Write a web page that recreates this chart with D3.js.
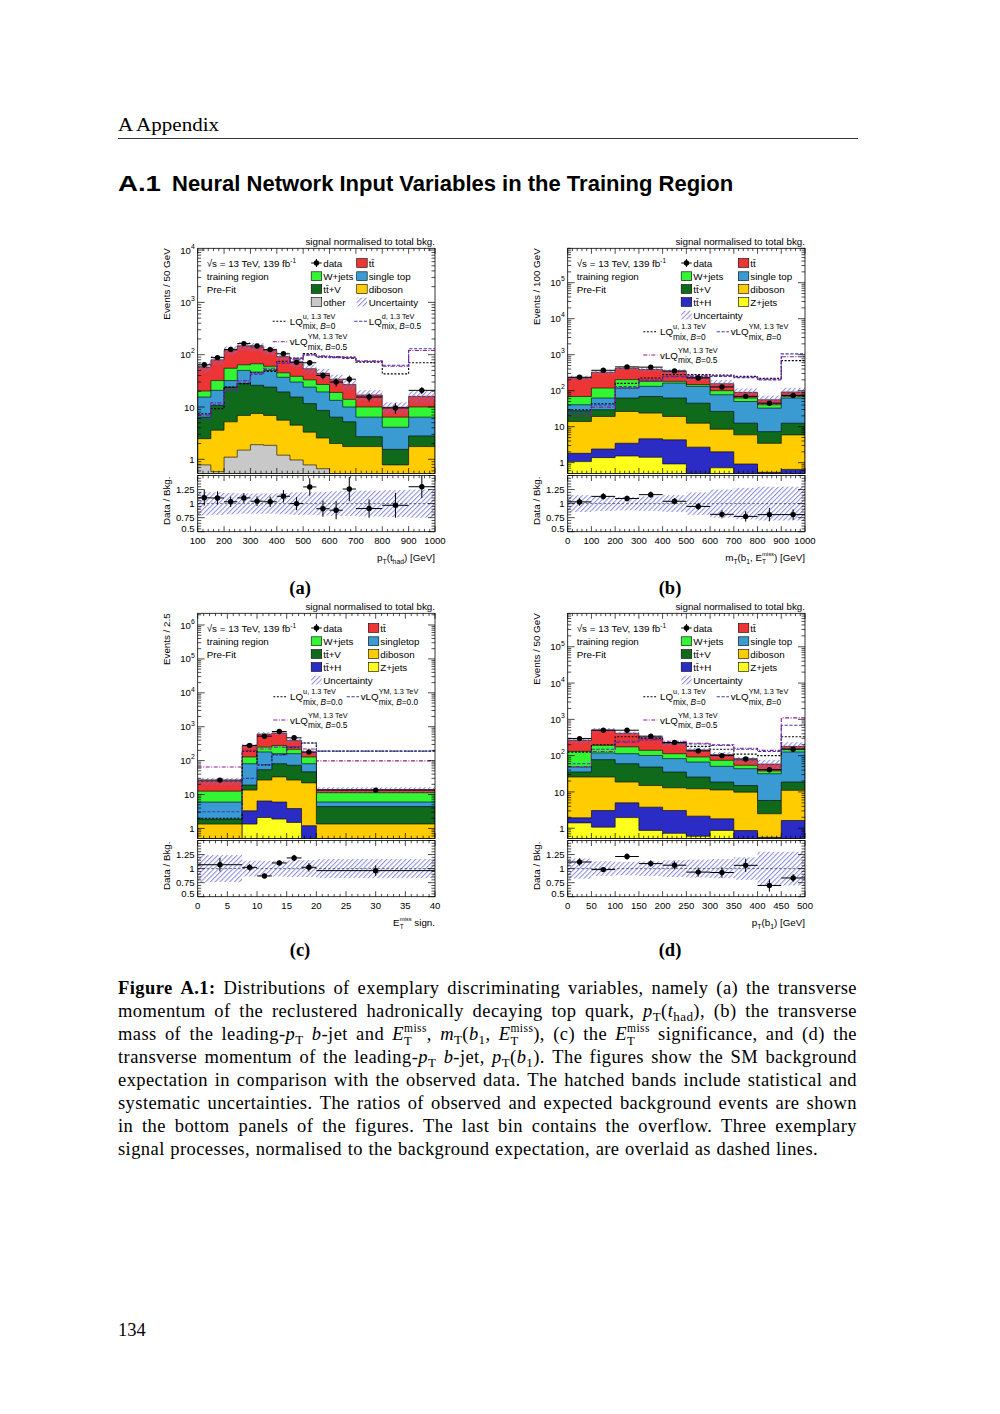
<!DOCTYPE html>
<html>
<head>
<meta charset="utf-8">
<script src="https://cdn.jsdelivr.net/npm/d3@7"></script>
<style>
html,body{margin:0;padding:0;background:#fff;}
svg text{white-space:pre;}
</style>
</head>
<body>
<svg id="page" width="1000" height="1414" xmlns="http://www.w3.org/2000/svg"></svg>
<script>
// ---------------- DATA ----------------
// (a) pT(t_had)
const edgesA = [100,150,200,250,300,350,400,450,500,550,600,650,700,800,900,1000];
const dataA = [64,88,126,163,147,125,104,72,70,40,30,34,15.5,9.6,20.8];
const ttbarA = [37.8,48,67,84,74,61,47,33.4,21,17,15,13,7,3.5,6];
const wjetsA = [4.7,11.2,23,14,20.5,10,8,8.6,9,7.6,5.6,4,3.6,2.3,3.6];
const singletopA = [9.1,10.1,8,22,20.5,26,17.6,14.5,12.4,10.8,7,4.8,3.7,2.55,3.6];
const ttvA = [3.92,7.1,18.8,21.1,18.5,17.1,13.8,11,8.3,6.05,4.4,3.45,0.95,0.77,1.05];
const dibosonA = [1.7,3.02,4.1,5.4,5.6,5.05,4.4,3.53,2.52,1.89,1.55,1.4,1.45,0.48,1.45];
const otherA = [0.78,0.58,1.1,1.5,1.9,1.85,1.2,0.97,0.78,0.66,0.45,0.35,0.3,0.3,0.3];
const uncA = [0.21,0.2,0.19,0.18,0.18,0.18,0.19,0.2,0.2,0.21,0.22,0.22,0.23,0.24,0.25];
const sigLQuA = [7.4,9.3,24,28,45,48,75,86,105,90,90,90,72,43,70];
const sigLQdA = [6,11,20,30,42,52,68,80,100,92,88,85,74,63,130];
const sigVLQ05A = [7,12,22,32,45,55,70,85,98,95,92,88,76,60,120];

// (b) mT(b1, ETmiss)
const edgesB = [0,100,200,300,400,500,600,700,800,900,1000];
const dataB = [236,369,458,451,354,226,127,69.5,45,74];
const ttbarB = [160,209,217,207,158,91,57,27.5,15.4,23];
const wjetsB = [28.4,55.5,85,50,19,15,23,12.5,7.8,6.5];
const singletopB = [13,33,55.5,63,100.5,87,50.5,37.5,25.5,50];
const ttvB = [13.7,10.3,36,45.2,43.3,32.5,18,6.6,3.84,6.6];
const dibosonB = [12.1,16.8,23,19.2,14.9,9.8,6.5,5,2.9,5.25];
const tthB = [0.75,1.02,1.93,3.19,3.38,2.3,1.28,0.62,0.24,0.35];
const zjetsB = [1.07,1.38,1.53,1.41,0.92,0.4,0.72,0.3,0.3,0.3];
const uncB = [0.15,0.13,0.12,0.13,0.15,0.2,0.25,0.28,0.3,0.3];
const sigLQuB = [29.5,43,160,225,280,280,270,250,220,685];
const sigVLQ0B = [25,40,130,200,250,250,250,230,200,1050];
const sigVLQ05B = [20,35,120,190,240,260,260,240,210,880];

// (c) ETmiss significance
const edgesC = [0,7.5,10,12.5,15,17.5,20,40];
const dataC = [26.6,281,527,722,470,180,13.5];
const ttbarC = [12.3,147,356,376,180,48,2.7];
const wjetsC = [6.6,47,70,120,55,47,5.3];
const singletopC = [4.1,62,126,79,87,34.4,1.6];
const ttvC = [0.54,5.5,27.4,48,46.4,24.6,3.06];
const dibosonC = [1.04,10.2,20.15,27,22.75,20.8,1.2];
const tthC = [0.1,1.96,4.35,4.12,2.35,0.9,0.05];
const zjetsC = [0.2,1.34,2.1,1.88,1.5,0.3,0.1];
const uncC = [0.24,0.14,0.14,0.14,0.15,0.15,0.17];
const sigLQuC = [2.0,190,75,150,250,330,190];
const sigVLQ0C = [3.1,30,75,150,250,330,190];
const sigVLQ05C = [65,200,220,250,260,220,98];

// (d) pT(b1)
const edgesD = [0,50,100,150,200,250,300,350,400,450,500];
const dataD = [295,502,502,343,229,135,100,81,41,150];
const ttbarD = [133,318,239,175,103,52.3,33.1,22.6,20.9,25];
const wjetsD = [82.5,74,61,39,30.4,25.1,23.8,10.3,6,29];
const singletopD = [13.1,41.4,53,52.5,47.2,40.9,31.9,28.7,25.9,107.3];
const ttvD = [9.7,51.9,41.3,33.5,22.4,13.5,7.4,5.1,3.3,7.7];
const dibosonD = [23.8,22.6,13.7,11.2,9.9,10.05,9.5,9,1.94,9.4];
const tthD = [0.53,2,3.04,2.93,2.36,1.55,0.94,0.56,0.26,1.33];
const zjetsD = [1.4,1.07,1.96,0.87,0.72,0.6,0.87,0.3,0.3,0.3];
const uncD = [0.18,0.13,0.12,0.13,0.15,0.16,0.17,0.2,0.3,0.3];
const sigLQuD = [125,200,330,300,230,180,150,110,100,330];
const sigVLQ0D = [60,150,250,270,230,210,200,150,130,690];
const sigVLQ05D = [50,130,230,280,250,220,190,160,140,1100];

const ratioTicks = [0.5,0.75,1,1.25];
const ratioTickLabels = ['0.5','0.75','1','1.25'];

// ---------------- STYLE ----------------
const FS = 'Liberation Sans, Arial, Helvetica, sans-serif';
const FSERIF = 'Liberation Serif, Times New Roman, serif';
const C = {ttbar:'#ee3535', wjets:'#33f533', singletop:'#3a9ad2', ttv:'#0f6a1c',
           diboson:'#ffcc00', tth:'#2b2bc6', zjets:'#ffff1e', other:'#c8c8c8'};
const SIG = [
  {color:'#000000', dash:'2,1.6'},
  {color:'#3b3bb0', dash:'3.2,1.6'},
  {color:'#8c1c8c', dash:'4,1.5,1,1.5'}
];
const TICKFS = 9.6;

const svg = d3.select('#page');
svg.append('rect').attr('width',1000).attr('height',1414).attr('fill','#fff');
const defs = svg.append('defs');
const pat = defs.append('pattern').attr('id','hatch').attr('patternUnits','userSpaceOnUse')
  .attr('width',3.4).attr('height',3.4).attr('patternTransform','rotate(45)');
pat.append('line').attr('x1',0.6).attr('y1',-1).attr('x2',0.6).attr('y2',4.4)
  .attr('stroke','#6e6ed4').attr('stroke-width',0.85);

// ---------------- TEXT HELPERS ----------------
const R = (t, o) => Object.assign({t}, o || {});
function drawRuns(g, x, y, runs, base) {
  let cx = x;
  for (const r of runs) {
    if (r.stack) {
      const w1 = drawRuns(g, cx, y, r.stack[0], base);
      const w2 = drawRuns(g, cx, y, r.stack[1], base);
      cx += Math.max(w1, w2);
    } else {
      const t = g.append('text').attr('x', cx).attr('y', y + (r.dy || 0))
        .attr('font-family', base.family).attr('font-size', r.sz || base.size)
        .attr('fill', '#000').text(r.t);
      if (base.ls) t.attr('letter-spacing', base.ls);
      if (r.it) t.attr('font-style', 'italic');
      if (r.b || base.bold) t.attr('font-weight', 'bold');
      cx += t.node().getComputedTextLength();
    }
  }
  return cx - x;
}
function drawAnchored(parent, x, y, runs, base, anchor) {
  const g = parent.append('g');
  const w = drawRuns(g, 0, y, runs, base);
  const off = anchor === 'end' ? x - w : anchor === 'middle' ? x - w / 2 : x;
  g.attr('transform', `translate(${off},0)`);
  return w;
}
const PB = {family: FS, size: 9.8};
const sub = t => R(t, {sz: 6.8, dy: 2.8});
const emissPlot = {stack: [[R('miss', {sz: 5.8, dy: -4.6})], [R('T', {sz: 6.5, dy: 2.8})]]};
function sigLab(name, supTxt, bval) {
  return [R(name), {stack: [[R(supTxt, {sz: 7.3, dy: -6})],
    [R('mix, ', {sz: 8.3, dy: 4.6}), R('B', {sz: 8.3, dy: 4.6, it: true}), R('=' + bval, {sz: 8.3, dy: 4.6})]]}];
}

// ---------------- PANEL ----------------
function drawPanel(P) {
  const g = svg.append('g');
  const x = d3.scaleLinear().domain(P.xdom).range([P.x0, P.x1]);
  const y = d3.scaleLog().domain(P.ydom).range([P.yb, P.yt]);
  const yr = d3.scaleLinear().domain([0.5, 1.5]).range([P.rb, P.rt]);
  defs.append('clipPath').attr('id', 'cm' + P.id).append('rect')
    .attr('x', P.x0).attr('y', P.yt).attr('width', P.x1 - P.x0).attr('height', P.yb - P.yt);
  defs.append('clipPath').attr('id', 'cr' + P.id).append('rect')
    .attr('x', P.x0).attr('y', P.rt).attr('width', P.x1 - P.x0).attr('height', P.rb - P.rt);
  const gm = g.append('g').attr('clip-path', `url(#cm${P.id})`);
  const gr = g.append('g').attr('clip-path', `url(#cr${P.id})`);
  const E = P.edges, n = E.length - 1;
  const yy = v => y(Math.max(v, 1e-4));

  // stack
  const cums = []; let acc = new Array(n).fill(0);
  P.comps.forEach(c => { acc = acc.map((a, i) => a + c.v[i]); cums.push(acc.slice()); });
  const total = acc;
  const ybot = P.yb + 4;
  const area = vals => {
    let d = `M${x(E[0])},${ybot}`;
    for (let i = 0; i < n; i++) d += `L${x(E[i])},${yy(vals[i])}L${x(E[i + 1])},${yy(vals[i])}`;
    return d + `L${x(E[n])},${ybot}Z`;
  };
  for (let k = P.comps.length - 1; k >= 0; k--) {
    gm.append('path').attr('d', area(cums[k])).attr('fill', P.comps[k].c)
      .attr('stroke', '#000').attr('stroke-width', 0.6);
  }
  // uncertainty band
  total.forEach((t, i) => {
    gm.append('rect').attr('x', x(E[i])).attr('width', x(E[i + 1]) - x(E[i]))
      .attr('y', yy(t * (1 + P.unc[i]))).attr('height', yy(t * (1 - P.unc[i])) - yy(t * (1 + P.unc[i])))
      .attr('fill', 'url(#hatch)');
  });
  // signals
  P.sigs.forEach((s, k) => {
    let d = '';
    for (let i = 0; i < n; i++) d += (i ? 'L' : 'M') + `${x(E[i])},${yy(s[i])}L${x(E[i + 1])},${yy(s[i])}`;
    gm.append('path').attr('d', d).attr('fill', 'none').attr('stroke', SIG[k].color)
      .attr('stroke-width', 1.1).attr('stroke-dasharray', SIG[k].dash);
  });
  // data
  P.data.forEach((v, i) => {
    const w = E[i + 1] - E[i];
    const e = Math.sqrt(v * w / P.unit) * P.unit / w;
    const xc = x((E[i] + E[i + 1]) / 2);
    gm.append('line').attr('x1', x(E[i])).attr('x2', x(E[i + 1])).attr('y1', yy(v)).attr('y2', yy(v))
      .attr('stroke', '#000').attr('stroke-width', 1);
    gm.append('line').attr('x1', xc).attr('x2', xc).attr('y1', yy(v + e)).attr('y2', yy(Math.max(v - e, 1e-3)))
      .attr('stroke', '#000').attr('stroke-width', 1);
    gm.append('circle').attr('cx', xc).attr('cy', yy(v)).attr('r', 2.7).attr('fill', '#000');
  });

  // ratio
  total.forEach((t, i) => {
    gr.append('rect').attr('x', x(E[i])).attr('width', x(E[i + 1]) - x(E[i]))
      .attr('y', yr(1 + P.unc[i])).attr('height', yr(1 - P.unc[i]) - yr(1 + P.unc[i]))
      .attr('fill', 'url(#hatch)');
  });
  gr.append('line').attr('x1', P.x0).attr('x2', P.x1).attr('y1', yr(1)).attr('y2', yr(1))
    .attr('stroke', '#333').attr('stroke-width', 0.7).attr('stroke-dasharray', '2.5,2');
  P.data.forEach((v, i) => {
    const w = E[i + 1] - E[i];
    const e = Math.sqrt(v * w / P.unit) * P.unit / w;
    const r = v / total[i], re = e / total[i];
    const xc = x((E[i] + E[i + 1]) / 2);
    gr.append('line').attr('x1', x(E[i])).attr('x2', x(E[i + 1])).attr('y1', yr(r)).attr('y2', yr(r))
      .attr('stroke', '#000').attr('stroke-width', 1);
    gr.append('line').attr('x1', xc).attr('x2', xc).attr('y1', yr(r + re)).attr('y2', yr(r - re))
      .attr('stroke', '#000').attr('stroke-width', 1);
    gr.append('circle').attr('cx', xc).attr('cy', yr(r)).attr('r', 2.7).attr('fill', '#000');
  });

  // frames
  [[P.yt, P.yb], [P.rt, P.rb]].forEach(([a, b]) => {
    g.append('rect').attr('x', P.x0).attr('y', a).attr('width', P.x1 - P.x0).attr('height', b - a)
      .attr('fill', 'none').attr('stroke', '#000').attr('stroke-width', 0.8);
  });

  // ticks
  const tk = (x1, y1, x2, y2) => g.append('line').attr('x1', x1).attr('y1', y1).attr('x2', x2).attr('y2', y2)
    .attr('stroke', '#000').attr('stroke-width', 0.7);
  const xt = (top, bot) => {
    for (let i = 0; ; i++) {
      const v = P.xdom[0] + i * P.xmin;
      if (v > P.xdom[1] + 1e-9) break;
      const maj = Math.abs(v / P.xmaj - Math.round(v / P.xmaj)) < 1e-6;
      const L = maj ? 5.5 : 2.8;
      tk(x(v), bot, x(v), bot - L); tk(x(v), top, x(v), top + L);
    }
  };
  xt(P.yt, P.yb); xt(P.rt, P.rb);
  const lo = Math.floor(Math.log10(P.ydom[0])), hi = Math.ceil(Math.log10(P.ydom[1]));
  for (let k = lo; k <= hi; k++) for (let m = 1; m <= 9; m++) {
    const v = m * Math.pow(10, k);
    if (v < P.ydom[0] || v > P.ydom[1]) continue;
    const L = m === 1 ? 7 : 3.5;
    tk(P.x0, y(v), P.x0 + L, y(v)); tk(P.x1, y(v), P.x1 - L, y(v));
    if (m === 1) {
      const runs = k === 0 ? [R('1')] : k === 1 ? [R('10')] : [R('10'), R(String(k), {sz: 6.8, dy: -4.8})];
      drawAnchored(g, P.x0 - 3, y(v) + 3.6, runs, {family: FS, size: TICKFS}, 'end');
    }
  }
  for (let i = 0; i <= 20; i++) {
    const v = 0.5 + i * 0.05;
    const maj = i % 5 === 0;
    const L = maj ? 7 : 3.5;
    tk(P.x0, yr(v), P.x0 + L, yr(v)); tk(P.x1, yr(v), P.x1 - L, yr(v));
  }
  ratioTicks.forEach((v, i) => {
    const off = v === 0.5 ? 0.3 : 3.6;
    g.append('text').attr('x', P.x0 - 3).attr('y', yr(v) + off).attr('text-anchor', 'end')
      .attr('font-family', FS).attr('font-size', TICKFS).text(ratioTickLabels[i]);
  });
  for (let v = P.xdom[0]; v <= P.xdom[1] + 1e-9; v += P.xmaj) {
    g.append('text').attr('x', x(v)).attr('y', P.rb + 11.8).attr('text-anchor', 'middle')
      .attr('font-family', FS).attr('font-size', TICKFS).text(String(v));
  }
  // titles
  drawAnchored(g, P.x1, P.rb + 29, P.xtitle, PB, 'end');
  g.append('text').attr('transform', `translate(${P.x0 - 28},${P.yt}) rotate(-90)`)
    .attr('text-anchor', 'end').attr('font-family', FS).attr('font-size', 9.8).text(P.ytitle);
  g.append('text').attr('transform', `translate(${P.x0 - 28},${P.rt + 1}) rotate(-90)`)
    .attr('text-anchor', 'end').attr('font-family', FS).attr('font-size', 9.8).text('Data / Bkg.');
  g.append('text').attr('x', P.x1).attr('y', P.yt - 3.5).attr('text-anchor', 'end')
    .attr('font-family', FS).attr('font-size', 9.8).text('signal normalised to total bkg.');

  // info text
  drawRuns(g, P.x0 + 9, P.yt + 18.2, [R('\u221As = 13 TeV, 139 fb'), R('-1', {sz: 6.5, dy: -4})], PB);
  g.append('text').attr('x', P.x0 + 9).attr('y', P.yt + 31.5).attr('font-family', FS).attr('font-size', 9.8).text('training region');
  g.append('text').attr('x', P.x0 + 9).attr('y', P.yt + 44.5).attr('font-family', FS).attr('font-size', 9.8).text('Pre-Fit');

  // legend
  const L = P.leg;
  L.rows.forEach((row, ri) => {
    const cy = P.yt + L.rowY[ri];
    row.forEach((e, ci) => {
      if (!e) return;
      const bx = P.x0 + L.colX[ci];
      if (e.type === 'data') {
        g.append('line').attr('x1', bx).attr('x2', bx + 10.5).attr('y1', cy).attr('y2', cy).attr('stroke', '#000').attr('stroke-width', 1);
        g.append('line').attr('x1', bx + 5.25).attr('x2', bx + 5.25).attr('y1', cy - 4).attr('y2', cy + 4).attr('stroke', '#000').attr('stroke-width', 1);
        g.append('circle').attr('cx', bx + 5.25).attr('cy', cy).attr('r', 2.7).attr('fill', '#000');
      } else if (e.type === 'hatch') {
        g.append('rect').attr('x', bx).attr('y', cy - 4.4).attr('width', 10.5).attr('height', 8.8).attr('fill', 'url(#hatch)');
      } else {
        g.append('rect').attr('x', bx).attr('y', cy - 4.4).attr('width', 10.5).attr('height', 8.8)
          .attr('fill', e.c).attr('stroke', '#000').attr('stroke-width', 0.6);
      }
      drawRuns(g, bx + 12, cy + 3.5, e.lab, PB);
    });
  });
  L.sigRows.forEach(sr => {
    const cy = P.yt + sr.y;
    sr.items.forEach(it => {
      const sc = L.sigCols[it.col];
      g.append('line').attr('x1', P.x0 + sc.l0).attr('x2', P.x0 + sc.l1).attr('y1', cy).attr('y2', cy)
        .attr('stroke', SIG[it.sig].color).attr('stroke-width', 1.1).attr('stroke-dasharray', SIG[it.sig].dash);
      drawRuns(g, P.x0 + sc.tx, cy + 3.5, it.lab, PB);
    });
  });

  // sub-caption
  drawAnchored(svg, P.subx, P.suby, [R('('), R(P.id, {b: true}), R(')')], {family: FSERIF, size: 18.5, bold: true}, 'middle');
}

const labTT = [R('tt\u0304')];
const legA = {
  rows: [
    [{type: 'data', lab: [R('data')]}, {type: 'box', c: C.ttbar, lab: labTT}],
    [{type: 'box', c: C.wjets, lab: [R('W+jets')]}, {type: 'box', c: C.singletop, lab: [R('single top')]}],
    [{type: 'box', c: C.ttv, lab: [R('tt\u0304+V')]}, {type: 'box', c: C.diboson, lab: [R('diboson')]}],
    [{type: 'box', c: C.other, lab: [R('other')]}, {type: 'hatch', lab: [R('Uncertainty')]}]
  ],
  rowY: [14.7, 27.9, 40.7, 53.7],
  colX: [113.5, 159],
  sigCols: [{l0: 75, l1: 89.5, tx: 92}, {l0: 156.6, l1: 169.3, tx: 171}],
  sigRows: [
    {y: 73, items: [{col: 0, sig: 0, lab: sigLab('LQ', 'u, 1.3 TeV', '0')}, {col: 1, sig: 1, lab: sigLab('LQ', 'd, 1.3 TeV', '0.5')}]},
    {y: 93.5, items: [{col: 0, sig: 2, lab: sigLab('vLQ', 'YM, 1.3 TeV', '0.5')}]}
  ]
};
function legBCD(stLabel, b0) {
  return {
    rows: [
      [{type: 'data', lab: [R('data')]}, {type: 'box', c: C.ttbar, lab: labTT}],
      [{type: 'box', c: C.wjets, lab: [R('W+jets')]}, {type: 'box', c: C.singletop, lab: [R(stLabel)]}],
      [{type: 'box', c: C.ttv, lab: [R('tt\u0304+V')]}, {type: 'box', c: C.diboson, lab: [R('diboson')]}],
      [{type: 'box', c: C.tth, lab: [R('tt\u0304+H')]}, {type: 'box', c: C.zjets, lab: [R('Z+jets')]}],
      [{type: 'hatch', lab: [R('Uncertainty')]}, null]
    ],
    rowY: [14.7, 27.9, 40.7, 53.7, 66.8],
    colX: [113.5, 170.6],
    sigCols: [{l0: 75.6, l1: 89.6, tx: 92.3}, {l0: 149, l1: 161.3, tx: 163}],
    sigRows: [
      {y: 83.4, items: [{col: 0, sig: 0, lab: sigLab('LQ', 'u, 1.3 TeV', b0)}, {col: 1, sig: 1, lab: sigLab('vLQ', 'YM, 1.3 TeV', b0)}]},
      {y: 106.7, items: [{col: 0, sig: 2, lab: sigLab('vLQ', 'YM, 1.3 TeV', '0.5')}]}
    ]
  };
}
const compsBCD = (zj, th, db, tv, st, wj, tt) => [
  {v: zj, c: C.zjets}, {v: th, c: C.tth}, {v: db, c: C.diboson}, {v: tv, c: C.ttv},
  {v: st, c: C.singletop}, {v: wj, c: C.wjets}, {v: tt, c: C.ttbar}];

const panels = [
  {id: 'a', x0: 197.7, x1: 435, yt: 248.3, yb: 473.5, rt: 475.5, rb: 531.7,
   xdom: [100, 1000], xmaj: 100, xmin: 20, ydom: [0.535, 10814], edges: edgesA, unit: 50, data: dataA,
   comps: [{v: otherA, c: C.other}, {v: dibosonA, c: C.diboson}, {v: ttvA, c: C.ttv},
           {v: singletopA, c: C.singletop}, {v: wjetsA, c: C.wjets}, {v: ttbarA, c: C.ttbar}],
   unc: uncA, sigs: [sigLQuA, sigLQdA, sigVLQ05A], leg: legA, ytitle: 'Events / 50 GeV',
   xtitle: [R('p'), sub('T'), R('(t'), sub('had'), R(') [GeV]')], subx: 300, suby: 594},
  {id: 'b', x0: 567.7, x1: 805, yt: 248.3, yb: 473.5, rt: 475.5, rb: 531.7,
   xdom: [0, 1000], xmaj: 100, xmin: 20, ydom: [0.5, 903000], edges: edgesB, unit: 100, data: dataB,
   comps: compsBCD(zjetsB, tthB, dibosonB, ttvB, singletopB, wjetsB, ttbarB),
   unc: uncB, sigs: [sigLQuB, sigVLQ0B, sigVLQ05B], leg: legBCD('single top', '0'), ytitle: 'Events / 100 GeV',
   xtitle: [R('m'), sub('T'), R('(b'), sub('1'), R(', E'), emissPlot, R(') [GeV]')], subx: 670, suby: 594},
  {id: 'c', x0: 197.7, x1: 435, yt: 613.3, yb: 838.5, rt: 840.5, rb: 896.7,
   xdom: [0, 40], xmaj: 5, xmin: 1, ydom: [0.504, 2213000], edges: edgesC, unit: 2.5, data: dataC,
   comps: compsBCD(zjetsC, tthC, dibosonC, ttvC, singletopC, wjetsC, ttbarC),
   unc: uncC, sigs: [sigLQuC, sigVLQ0C, sigVLQ05C], leg: legBCD('singletop', '0.0'), ytitle: 'Events / 2.5',
   xtitle: [R('E'), emissPlot, R(' sign.')], subx: 300, suby: 956},
  {id: 'd', x0: 567.7, x1: 805, yt: 613.3, yb: 838.5, rt: 840.5, rb: 896.7,
   xdom: [0, 500], xmaj: 50, xmin: 10, ydom: [0.52, 837000], edges: edgesD, unit: 50, data: dataD,
   comps: compsBCD(zjetsD, tthD, dibosonD, ttvD, singletopD, wjetsD, ttbarD),
   unc: uncD, sigs: [sigLQuD, sigVLQ0D, sigVLQ05D], leg: legBCD('single top', '0'), ytitle: 'Events / 50 GeV',
   xtitle: [R('p'), sub('T'), R('(b'), sub('1'), R(') [GeV]')], subx: 670, suby: 956}
];
panels.forEach(drawPanel);

// ---------------- PAGE TEXT ----------------
const hdr = svg.append('text').attr('x', 118).attr('y', 131).attr('font-family', FSERIF).attr('font-size', 18.5).text('A Appendix');
hdr.attr('textLength', 101).attr('lengthAdjust', 'spacingAndGlyphs');
svg.append('line').attr('x1', 118).attr('x2', 858).attr('y1', 138.5).attr('y2', 138.5).attr('stroke', '#000').attr('stroke-width', 0.8);
svg.append('text').attr('x', 118).attr('y', 191).attr('font-family', FS).attr('font-weight', 'bold')
  .attr('font-size', 22).attr('textLength', 43).attr('lengthAdjust', 'spacingAndGlyphs').text('A.1');
const st = svg.append('text').attr('x', 172).attr('y', 191).attr('font-family', FS).attr('font-weight', 'bold')
  .attr('font-size', 22).text('Neural Network Input Variables in the Training Region');
if (st.node().getComputedTextLength() > 601) st.attr('textLength', 601).attr('lengthAdjust', 'spacingAndGlyphs');
svg.append('text').attr('x', 118).attr('y', 1336).attr('font-family', FSERIF).attr('font-size', 18.5).text('134');

// caption
const cs = t => R(t, {sz: 13, dy: 4});
const Emiss = [R('E', {it: true}), {stack: [[R('miss', {sz: 11.5, dy: -8.5})], [R('T', {sz: 12.5, dy: 4.5})]]}];
const words = s => s.split(' ').map(w => [R(w)]);
const capLines = [
  {j: true, toks: [[R('Figure', {b: true})], [R('A.1:', {b: true})], ...words('Distributions of exemplary discriminating variables, namely (a) the transverse')]},
  {j: true, toks: [...words('momentum of the reclustered hadronically decaying top quark,'),
    [R('p', {it: true}), cs('T'), R('('), R('t', {it: true}), cs('had'), R('),')], ...words('(b) the transverse')]},
  {j: true, toks: [...words('mass of the'), [R('leading-'), R('p', {it: true}), cs('T')], [R('b', {it: true}), R('-jet')],
    ...words('and'), [...Emiss, R(',')], [R('m', {it: true}), cs('T'), R('('), R('b', {it: true}), cs('1'), R(',')],
    [...Emiss, R('),')], ...words('(c) the'), [...Emiss], ...words('significance, and (d) the')]},
  {j: true, toks: [...words('transverse momentum of the'), [R('leading-'), R('p', {it: true}), cs('T')], [R('b', {it: true}), R('-jet,')],
    [R('p', {it: true}), cs('T'), R('('), R('b', {it: true}), cs('1'), R(').')], ...words('The figures show the SM background')]},
  {j: true, toks: words('expectation in comparison with the observed data. The hatched bands include statistical and')},
  {j: true, toks: words('systematic uncertainties. The ratios of observed and expected background events are shown')},
  {j: true, toks: words('in the bottom panels of the figures. The last bin contains the overflow. Three exemplary')},
  {j: false, toks: words('signal processes, normalised to the background expectation, are overlaid as dashed lines.')}
];
const capBase = {family: FSERIF, size: 18.5, ls: 0.42};
const spaceW = 5.6;
capLines.forEach((line, li) => {
  const yb = 994 + 23 * li;
  const gs = line.toks.map(tok => { const g = svg.append('g'); const w = drawRuns(g, 0, yb, tok, capBase); return {g, w}; });
  const sumW = d3.sum(gs, d => d.w);
  const gap = line.j ? (739 - sumW) / (gs.length - 1) : spaceW;
  let cx = 118;
  gs.forEach(d => { d.g.attr('transform', `translate(${cx},0)`); cx += d.w + gap; });
});
</script>
</body>
</html>
